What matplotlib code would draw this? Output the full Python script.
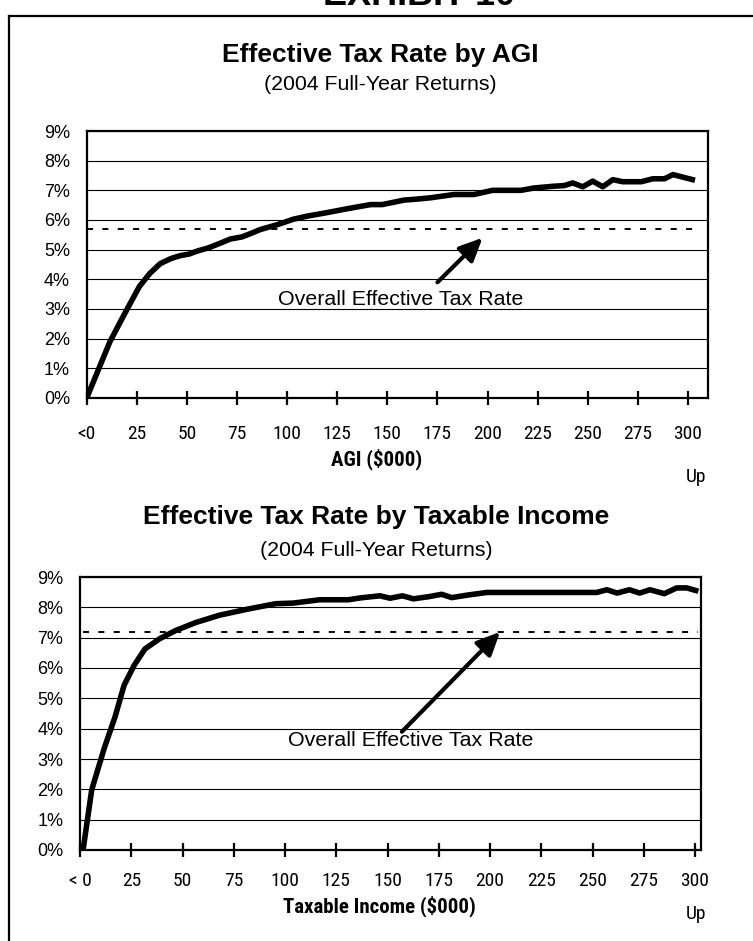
import matplotlib
matplotlib.use("Agg")
import matplotlib.pyplot as plt
from matplotlib import font_manager as fm
from matplotlib.lines import Line2D

# ---------------- data ----------------
agi_x = [0, 11.6, 19, 26.3, 31.5, 36.7, 42, 46.7, 51, 55, 60.7, 66, 71.7, 77.5, 82,
         86.7, 95, 103.3, 110, 120, 130, 141.7, 147.5, 158.3, 165.7, 171.7, 183.3,
         193.3, 202.5, 216.7, 223.3, 233.3, 238.3, 242.5, 247.5, 252.5, 257.5, 262.5,
         267.5, 276.7, 282.5, 288.3, 292.5, 303.5]
agi_rate = [0, 1.9, 2.85, 3.76, 4.2, 4.53, 4.7, 4.8, 4.85, 4.95, 5.06, 5.2, 5.36, 5.43,
            5.55, 5.68, 5.84, 6.03, 6.13, 6.25, 6.38, 6.52, 6.52, 6.67, 6.71, 6.75, 6.86,
            6.86, 7.0, 7.0, 7.08, 7.14, 7.16, 7.25, 7.12, 7.31, 7.12, 7.36, 7.29, 7.29,
            7.39, 7.39, 7.53, 7.34]
agi_overall = 5.7

ti_x = [1.5, 5.7, 11.8, 17.1, 21.5, 26.5, 31.7, 39, 46.8, 56.5, 68, 81.7, 95.5, 104,
        117, 131, 136.6, 146.3, 151.2, 157.3, 162.6, 170, 176.4, 181.3, 188.6, 198.4,
        252, 257, 262, 268, 273, 278, 285, 291, 296, 301.6]
ti_rate = [0, 1.98, 3.35, 4.39, 5.43, 6.1, 6.63, 6.97, 7.24, 7.5, 7.74, 7.94, 8.12, 8.14,
           8.25, 8.25, 8.31, 8.38, 8.3, 8.38, 8.28, 8.35, 8.43, 8.32, 8.4, 8.49,
           8.49, 8.58, 8.47, 8.58, 8.47, 8.58, 8.45, 8.64, 8.64, 8.53]
ti_overall = 7.2

x_ticks = [0, 25, 50, 75, 100, 125, 150, 175, 200, 225, 250, 275, 300]
agi_tick_labels = ["<0", "25", "50", "75", "100", "125", "150", "175", "200",
                   "225", "250", "275", "300"]
ti_tick_labels = ["< 0", "25", "50", "75", "100", "125", "150", "175", "200",
                  "225", "250", "275", "300"]
y_ticks = [0, 1, 2, 3, 4, 5, 6, 7, 8, 9]
y_tick_labels = [f"{v}%" for v in y_ticks]

# ---------------- fonts ----------------
plt.rcParams["font.family"] = ["Liberation Sans", "DejaVu Sans"]


def pick_narrow():
    entries = fm.fontManager.ttflist
    names = {f.name for f in entries}
    for n in ["Liberation Sans Narrow", "Arial Narrow", "Roboto Condensed",
              "Open Sans Condensed", "Noto Sans Condensed", "DejaVu Sans Condensed"]:
        if n in names:
            return n, "normal"
    for f in entries:
        if ("Narrow" in f.name or "Condensed" in f.name) and "Mono" not in f.name \
                and "Serif" not in f.name:
            return f.name, "normal"
    for f in entries:
        st = f.stretch
        if isinstance(st, str) and "condensed" in st and "Mono" not in f.name \
                and "Serif" not in f.name:
            return f.name, "condensed"
    return "Liberation Sans", "normal"


NARROW, NSTRETCH = pick_narrow()
NARROW_FONT = dict(family=[NARROW, "DejaVu Sans"], stretch=NSTRETCH)
is_narrow = NARROW != "Liberation Sans"
TICK_SIZE = 14 if is_narrow else 12.5
XLAB_SIZE = 15 if is_narrow else 13.5

W, H = 753, 941
fig = plt.figure(figsize=(W / 100, H / 100), dpi=100)


def fx(px):
    return px / W


def fy(py):
    return 1 - py / H


def make_axes(rect, xs, ys, overall, xmax, ticklabels, tick_pad, arrow_from, arrow_to,
              text_xy):
    l, t, r, b = rect
    ax = fig.add_axes([fx(l), fy(b), (r - l) / W, (b - t) / H])
    ax.set_xlim(0, xmax)
    ax.set_ylim(0, 9)
    for s in ax.spines.values():
        s.set_linewidth(1.6)
        s.set_color("black")
    ax.set_yticks(y_ticks)
    ax.set_yticklabels(y_tick_labels, fontsize=13)
    ax.tick_params(axis="y", length=0, pad=12)
    ax.yaxis.grid(True, color="black", lw=0.8)
    ax.set_axisbelow(True)
    ax.set_xticks(x_ticks)
    ax.set_xticklabels(ticklabels, fontsize=TICK_SIZE, **NARROW_FONT)
    ax.tick_params(axis="x", direction="inout", length=9.5, width=1.6, pad=tick_pad)
    ax.hlines(overall, min(xs), max(xs), colors="black", lw=1.4,
              linestyles=(0, (3.1, 4.8)), zorder=3)
    ax.plot(xs, ys, color="black", lw=4.0, solid_joinstyle="round",
            solid_capstyle="butt", zorder=4)
    ax.annotate("", xy=arrow_to, xytext=arrow_from,
                arrowprops=dict(arrowstyle="-|>,head_length=1.4,head_width=0.65",
                                mutation_scale=10, lw=3, color="black",
                                shrinkA=0, shrinkB=0), zorder=5)
    ax.text(text_xy[0], text_xy[1], "Overall Effective Tax Rate", ha="center",
            va="center", fontsize=15.4)
    return ax


ax1 = make_axes((86.7, 131, 708, 398), agi_x, agi_rate, agi_overall, 310, agi_tick_labels,
                15, (175, 3.9), (197.5, 5.4), (156.7, 3.31))
ax2 = make_axes((80, 577, 701, 850), ti_x, ti_rate, ti_overall, 302.9, ti_tick_labels,
                11, (157, 3.9), (204.9, 7.19), (161.5, 3.6))

# x-axis titles and "Up"
fig.text(fx(377), fy(459), "AGI ($000)", ha="center", va="center", fontsize=XLAB_SIZE,
         weight="bold", **NARROW_FONT)
fig.text(fx(696), fy(477), "Up", ha="center", va="center", fontsize=TICK_SIZE, **NARROW_FONT)
fig.text(fx(379), fy(906), "Taxable Income ($000)", ha="center", va="center",
         fontsize=XLAB_SIZE, weight="bold", **NARROW_FONT)
fig.text(fx(696), fy(914), "Up", ha="center", va="center", fontsize=TICK_SIZE, **NARROW_FONT)

# chart titles
fig.text(fx(380), fy(55), "Effective Tax Rate by AGI", ha="center", va="center",
         fontsize=19, weight="bold")
fig.text(fx(380), fy(84), "(2004 Full-Year Returns)", ha="center", va="center", fontsize=15.3)
fig.text(fx(376), fy(517), "Effective Tax Rate by Taxable Income", ha="center", va="center",
         fontsize=19, weight="bold")
fig.text(fx(376), fy(550), "(2004 Full-Year Returns)", ha="center", va="center", fontsize=15.3)

# exhibit header and frame
fig.text(fx(419), fy(5), "EXHIBIT 10", ha="center", va="baseline", fontsize=26, weight="bold")
fig.add_artist(Line2D([fx(9), fx(9)], [fy(941), fy(16)], transform=fig.transFigure,
                      color="black", lw=1.6))
fig.add_artist(Line2D([fx(9), fx(753)], [fy(16), fy(16)], transform=fig.transFigure,
                      color="black", lw=1.6))

fig.savefig("out.png", dpi=100, facecolor="white")
